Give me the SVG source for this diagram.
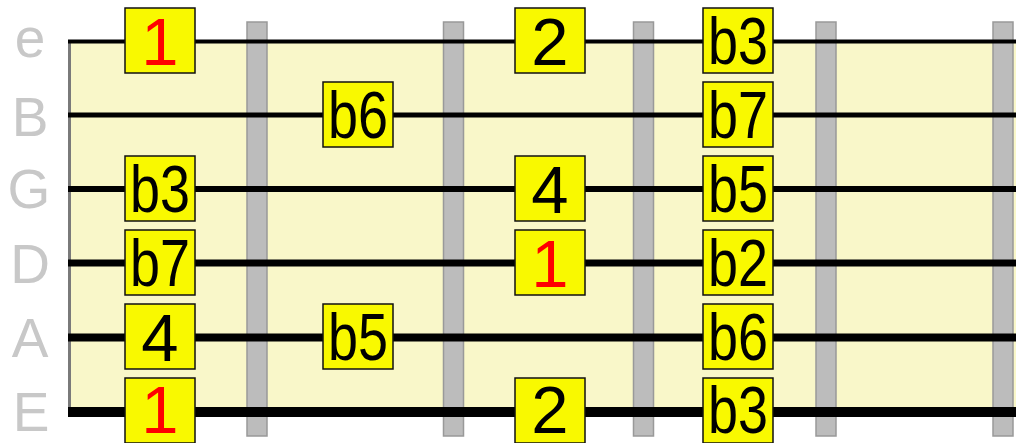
<svg xmlns="http://www.w3.org/2000/svg" width="1016" height="443" viewBox="0 0 1016 443">
<style>
.lbl{font-family:"Liberation Sans",Arial,sans-serif;font-size:55px;fill:#c8c8c8;text-anchor:middle}
.box{fill:#f9f900;stroke:#111;stroke-width:1.5}
.t{font-family:"Liberation Sans",Arial,sans-serif;font-size:67px;fill:#000;text-anchor:middle}
.r{fill:#f00}
.fret{fill:#bcbcbc;stroke:#999;stroke-width:1.5}
.str{stroke:#000}
</style>
<rect width="1016" height="443" fill="#fff"/>
<g id="fretboard">
<rect x="68" y="41" width="948" height="374" fill="#f9f7c9"/>
<line x1="69.5" y1="40" x2="69.5" y2="414" stroke="#7a7a7a" stroke-width="3"/>
</g>
<g id="string-labels">
<text class="lbl" x="30" y="57">e</text>
<text class="lbl" x="30" y="136">B</text>
<text class="lbl" x="29" y="208">G</text>
<text class="lbl" x="30" y="283">D</text>
<text class="lbl" x="30" y="357">A</text>
<text class="lbl" x="31" y="431">E</text>
</g>
<g id="frets">
<rect class="fret" x="247" y="22" width="20" height="414"/>
<rect class="fret" x="443.5" y="22" width="20" height="414"/>
<rect class="fret" x="633.5" y="22" width="20" height="414"/>
<rect class="fret" x="816" y="22" width="20" height="414"/>
<rect class="fret" x="993" y="22" width="20" height="414"/>
</g>
<g id="strings">
<line class="str" x1="68" y1="41.5" x2="1016" y2="41.5" stroke-width="4"/>
<line class="str" x1="68" y1="115" x2="1016" y2="115" stroke-width="5"/>
<line class="str" x1="68" y1="189" x2="1016" y2="189" stroke-width="6"/>
<line class="str" x1="68" y1="263" x2="1016" y2="263" stroke-width="7"/>
<line class="str" x1="68" y1="337.5" x2="1016" y2="337.5" stroke-width="8"/>
<line class="str" x1="68" y1="412" x2="1016" y2="412" stroke-width="10"/>
</g>
<g id="n-e1"><rect class="box" x="125" y="8" width="70" height="65"/><text class="t r" x="160" y="65">1</text></g>
<g id="n-G1"><rect class="box" x="125" y="156" width="70" height="65"/><text class="t" x="160" y="212" textLength="60" lengthAdjust="spacingAndGlyphs">b3</text></g>
<g id="n-D1"><rect class="box" x="125" y="230" width="70" height="65"/><text class="t" x="160" y="286" textLength="60" lengthAdjust="spacingAndGlyphs">b7</text></g>
<g id="n-A1"><rect class="box" x="125" y="304" width="70" height="65"/><text class="t" x="160" y="361">4</text></g>
<g id="n-E1"><rect class="box" x="125" y="378" width="70" height="65"/><text class="t r" x="160" y="433">1</text></g>
<g id="n-B2"><rect class="box" x="323" y="82" width="70" height="65"/><text class="t" x="358" y="138" textLength="60" lengthAdjust="spacingAndGlyphs">b6</text></g>
<g id="n-A2"><rect class="box" x="323" y="304" width="70" height="65"/><text class="t" x="358" y="360" textLength="60" lengthAdjust="spacingAndGlyphs">b5</text></g>
<g id="n-e3"><rect class="box" x="515" y="8" width="70" height="65"/><text class="t" x="550" y="65">2</text></g>
<g id="n-G3"><rect class="box" x="515" y="156" width="70" height="65"/><text class="t" x="550" y="213">4</text></g>
<g id="n-D3"><rect class="box" x="515" y="230" width="70" height="65"/><text class="t r" x="550" y="287">1</text></g>
<g id="n-E3"><rect class="box" x="515" y="378" width="70" height="65"/><text class="t" x="550" y="433">2</text></g>
<g id="n-e4"><rect class="box" x="703" y="8" width="70" height="65"/><text class="t" x="738" y="64" textLength="60" lengthAdjust="spacingAndGlyphs">b3</text></g>
<g id="n-B4"><rect class="box" x="703" y="82" width="70" height="65"/><text class="t" x="738" y="138" textLength="60" lengthAdjust="spacingAndGlyphs">b7</text></g>
<g id="n-G4"><rect class="box" x="703" y="156" width="70" height="65"/><text class="t" x="738" y="212" textLength="60" lengthAdjust="spacingAndGlyphs">b5</text></g>
<g id="n-D4"><rect class="box" x="703" y="230" width="70" height="65"/><text class="t" x="738" y="286" textLength="60" lengthAdjust="spacingAndGlyphs">b2</text></g>
<g id="n-A4"><rect class="box" x="703" y="304" width="70" height="65"/><text class="t" x="738" y="360" textLength="60" lengthAdjust="spacingAndGlyphs">b6</text></g>
<g id="n-E4"><rect class="box" x="703" y="378" width="70" height="65"/><text class="t" x="738" y="433" textLength="60" lengthAdjust="spacingAndGlyphs">b3</text></g>
</svg>
